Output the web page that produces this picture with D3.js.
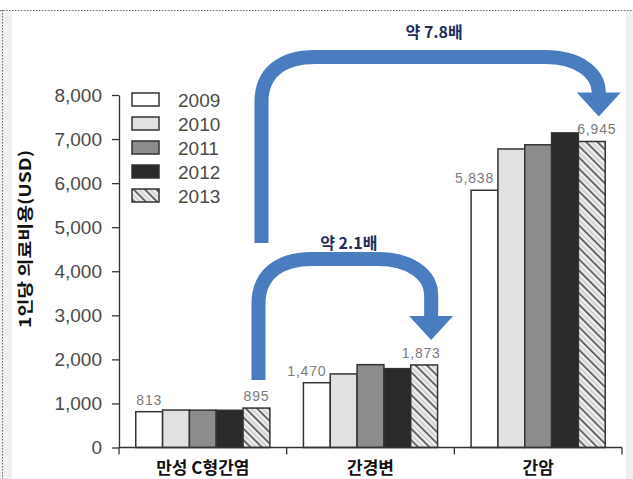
<!DOCTYPE html>
<html>
<head>
<meta charset="utf-8">
<script src="https://cdn.jsdelivr.net/npm/d3@7"></script>
<style>
  html, body { margin: 0; padding: 0; background: #fff; }
  svg { display: block; }
</style>
</head>
<body>
<svg id="chart" width="633" height="479"></svg>
<script>
// Per-capita medical cost (USD) by liver disease stage, 2009–2013
const categories = ["만성 C형간염", "간경변", "간암"];
const years = ["2009", "2010", "2011", "2012", "2013"];
const chronicHepC = [813, 850, 848, 845, 895];
const cirrhosis = [1470, 1670, 1880, 1790, 1873];
const liverCancer = [5838, 6775, 6870, 7140, 6945];
const yTicks = [0, 1000, 2000, 3000, 4000, 5000, 6000, 7000, 8000];
// values printed above bars: [category index, year index]
const labelled = [[0, 0], [0, 4], [1, 0], [1, 4], [2, 0], [2, 4]];
const ratios = ["약 2.1배", "약 7.8배"];

const seriesByCat = [chronicHepC, cirrhosis, liverCancer];
const fills = ["#ffffff", "#e1e1e1", "#8c8c8c", "#2a2a2a", "url(#hatch)"];

const svg = d3.select("#chart");
const W = 633, H = 479;

// page frame: grey side strips and dotted border
svg.append("rect").attr("x", 0).attr("y", 10).attr("width", 12).attr("height", H - 10).attr("fill", "#f0f0f0");
svg.append("rect").attr("x", 626).attr("y", 10).attr("width", 7).attr("height", H - 10).attr("fill", "#f0f0f0");
svg.append("line").attr("x1", 0).attr("x2", W).attr("y1", 10.5).attr("y2", 10.5)
  .attr("stroke", "#666").attr("stroke-dasharray", "1.5,1.5");
svg.append("line").attr("x1", 2.5).attr("x2", 2.5).attr("y1", 10).attr("y2", H)
  .attr("stroke", "#666").attr("stroke-dasharray", "1.5,1.5");

// hatch pattern for 2013
const defs = svg.append("defs");
const pat = defs.append("pattern").attr("id", "hatch").attr("patternUnits", "userSpaceOnUse")
  .attr("width", 8).attr("height", 8).attr("patternTransform", "rotate(-45)");
pat.append("rect").attr("width", 8).attr("height", 8).attr("fill", "#eeeeee");
pat.append("rect").attr("x", 0).attr("width", 1.6).attr("height", 8).attr("fill", "#4a4a4a");
pat.append("rect").attr("x", 4).attr("width", 1.2).attr("height", 8).attr("fill", "#c4c4c4");

const plotLeft = 119, plotRight = 622, plotTop = 95, plotBottom = 447.5;

const x0 = d3.scaleBand().domain(categories).range([plotLeft, plotRight]).padding(0);
const x1 = d3.scaleBand().domain(years)
  .range([x0.bandwidth() * 0.1, x0.bandwidth() * 0.9]).padding(0);
const y = d3.scaleLinear().domain([0, 8000]).range([plotBottom, plotTop]);

// bars
const g = svg.append("g");
categories.forEach((c, ci) => {
  g.append("g").attr("transform", `translate(${x0(c)},0)`)
    .selectAll("rect").data(seriesByCat[ci]).join("rect")
    .attr("x", (d, i) => x1(years[i]))
    .attr("y", d => y(d))
    .attr("width", x1.bandwidth())
    .attr("height", d => y(0) - y(d))
    .attr("fill", (d, i) => fills[i])
    .attr("stroke", "#333")
    .attr("stroke-width", 1.5);
});

// y axis
const yAxis = svg.append("g").attr("transform", `translate(${plotLeft},0)`)
  .call(d3.axisLeft(y).tickValues(yTicks).tickFormat(d3.format(",")).tickSize(7).tickSizeOuter(0).tickPadding(10));
yAxis.select(".domain").attr("stroke", "#333").attr("stroke-width", 1.3);
yAxis.selectAll(".tick line").attr("stroke", "#333").attr("stroke-width", 1.3);
yAxis.selectAll(".tick text").attr("font-family", "Liberation Sans, Arial, sans-serif")
  .attr("font-size", 19).attr("fill", "#4a4a4a");

// x axis with ticks at category boundaries
const xAxis = svg.append("g").attr("transform", `translate(0,${plotBottom})`);
xAxis.append("line").attr("x1", plotLeft).attr("x2", plotRight).attr("stroke", "#333").attr("stroke-width", 1.3);
const bounds = categories.map(c => x0(c)).concat([x0(categories[categories.length - 1]) + x0.bandwidth()]);
xAxis.selectAll(".bt").data(bounds).join("line").attr("class", "bt")
  .attr("x1", d => d).attr("x2", d => d).attr("y1", 0).attr("y2", 7)
  .attr("stroke", "#333").attr("stroke-width", 1.3);
xAxis.selectAll(".cl").data(categories).join("text").attr("class", "cl")
  .attr("x", d => x0(d) + x0.bandwidth() / 2).attr("y", 26)
  .attr("text-anchor", "middle")
  .attr("font-family", "Noto Sans CJK KR, sans-serif").attr("font-weight", "bold")
  .attr("font-size", 17).attr("fill", "#111")
  .text(d => d);

// y axis title
svg.append("text").attr("transform", "translate(31,239) rotate(-90)")
  .attr("text-anchor", "middle")
  .attr("font-family", "Noto Sans CJK KR, sans-serif").attr("font-weight", "bold")
  .attr("font-size", 16).attr("fill", "#111")
  .attr("textLength", 178).attr("lengthAdjust", "spacingAndGlyphs")
  .text("1인당 의료비용(USD)");

// value labels
const labelShift = { "0,0": 0, "0,4": 0, "1,0": -10, "1,4": -3, "2,0": -10, "2,4": 5 };
svg.selectAll(".vl").data(labelled).join("text").attr("class", "vl")
  .attr("x", ([ci, yi]) => x0(categories[ci]) + x1(years[yi]) + x1.bandwidth() / 2 + labelShift[ci + "," + yi])
  .attr("y", ([ci, yi]) => y(seriesByCat[ci][yi]) - 7)
  .attr("text-anchor", "middle")
  .attr("font-family", "Liberation Sans, Arial, sans-serif").attr("font-size", 14)
  .attr("letter-spacing", 0.8).attr("fill", "#7a7a7a")
  .text(([ci, yi]) => d3.format(",")(seriesByCat[ci][yi]));

// legend
const lg = svg.append("g").attr("transform", "translate(132,93)");
years.forEach((yr, i) => {
  const row = lg.append("g").attr("transform", `translate(0,${i * 24})`);
  row.append("rect").attr("width", 27).attr("height", 13)
    .attr("fill", fills[i]).attr("stroke", "#333").attr("stroke-width", 1.5);
  row.append("text").attr("x", 46).attr("y", 14)
    .attr("font-family", "Liberation Sans, Arial, sans-serif").attr("font-size", 19)
    .attr("fill", "#4a4a4a").text(yr);
});

// growth arrows
const blue = "#4a7dc0";
function barTop(ci, yi) {
  return { x: x0(categories[ci]) + x1(years[yi]) + x1.bandwidth() / 2, y: y(seriesByCat[ci][yi]) };
}
function arrow(startX, startY, barY, tip, label, labelY) {
  const tipX = tip.x + 7, tipY = tip.y - 25;
  const headY = tipY - 24;
  const r = 45;
  const p = d3.path();
  p.moveTo(startX, startY);
  p.lineTo(startX, barY + r);
  p.bezierCurveTo(startX, barY + r * 0.35, startX + r * 0.45, barY, startX + r * 1.2, barY);
  p.lineTo(tipX - r * 1.2, barY);
  p.bezierCurveTo(tipX - r * 0.45, barY, tipX, barY + r * 0.35, tipX, barY + r * 0.8);
  p.lineTo(tipX, headY + 1);
  svg.append("path").attr("d", p.toString()).attr("fill", "none")
    .attr("stroke", blue).attr("stroke-width", 14);
  svg.append("path")
    .attr("d", `M${tipX - 22},${headY} L${tipX + 22},${headY} L${tipX},${tipY} Z`)
    .attr("fill", blue);
  svg.append("text").attr("x", (startX + tipX) / 2 + 4).attr("y", labelY)
    .attr("text-anchor", "middle")
    .attr("font-family", "Noto Sans CJK KR, sans-serif").attr("font-weight", "bold")
    .attr("font-size", 16).attr("fill", "#1f2d5c").text(label);
}
const hepCTop = barTop(0, 4);
arrow(hepCTop.x + 2, hepCTop.y - 28, 259, barTop(1, 4), ratios[0], 249);
arrow(hepCTop.x + 5, 243, 57, barTop(2, 4), ratios[1], 38);
</script>
</body>
</html>
